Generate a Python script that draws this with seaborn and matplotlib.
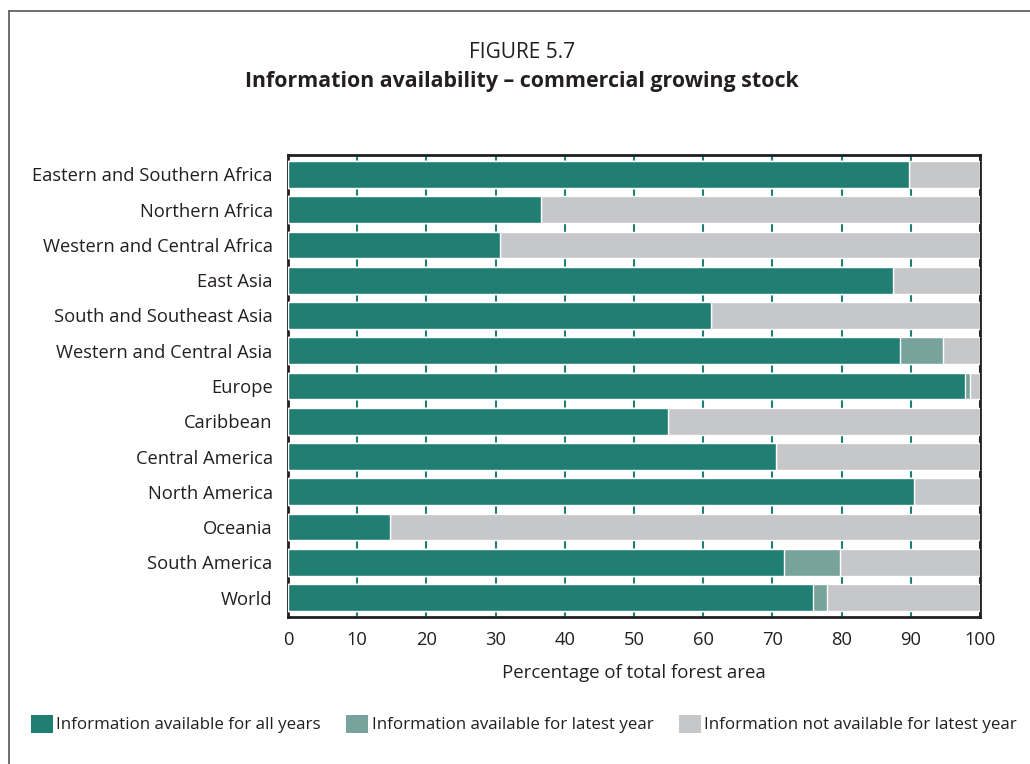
import numpy as np
import matplotlib
matplotlib.use("Agg")
import matplotlib.pyplot as plt
import seaborn as sns
import pandas as pd
from matplotlib.patches import Patch
from matplotlib.lines import Line2D

regions = ["Eastern and Southern Africa", "Northern Africa", "Western and Central Africa",
           "East Asia", "South and Southeast Asia", "Western and Central Asia", "Europe",
           "Caribbean", "Central America", "North America", "Oceania", "South America", "World"]
all_years = [89.7, 36.5, 30.7, 87.4, 61.1, 88.4, 97.9, 54.9, 70.5, 90.5, 14.7, 71.7, 75.9]
latest_year = [0, 0, 0, 0, 0, 6.2, 0.6, 0, 0, 0, 0, 8.1, 2.0]
series_names = ["Information available for all years",
                "Information available for latest year",
                "Information not available for latest year"]
colors = ["#217e72", "#78a39c", "#c6c7c9"]
teal_grid = "#217e72"

df = pd.DataFrame({"region": regions, "all": all_years, "latest": latest_year})
df["cum_latest"] = df["all"] + df["latest"]
df["total"] = 100.0

sns.set_theme(style="white")
plt.rcParams["font.family"] = ["Open Sans", "DejaVu Sans"]
plt.rcParams["text.color"] = "#231f20"

fig = plt.figure(figsize=(10.30, 7.64), dpi=100)
ax = fig.add_axes([288 / 1030, 1 - 617 / 764, 692 / 1030, 462 / 764])

bar_h = 0.76
sns.barplot(data=df, y="region", x="total", color=colors[2], orient="h", width=bar_h,
            saturation=1, ax=ax, zorder=3)
sns.barplot(data=df, y="region", x="cum_latest", color=colors[1], orient="h", width=bar_h,
            saturation=1, ax=ax, zorder=3)
sns.barplot(data=df, y="region", x="all", color=colors[0], orient="h", width=bar_h,
            saturation=1, ax=ax, zorder=3)

ax.set_xlim(0, 100)
ax.set_ylim(len(regions) - 0.5 + 0.05, -0.5 - 0.05)
ax.set_xticks(np.arange(0, 101, 10))
ax.xaxis.grid(True, color=teal_grid, linewidth=1.5, zorder=0)
ax.set_axisbelow(True)
ax.tick_params(axis="both", length=0, labelsize=13.2, colors="#231f20")
ax.tick_params(axis="x", pad=10)
ax.tick_params(axis="y", pad=11)
ax.set_ylabel("")
ax.set_xlabel("Percentage of total forest area", fontsize=13.4, labelpad=11, color="#231f20")
for side in ["left", "right", "top", "bottom"]:
    ax.spines[side].set_visible(True)
    ax.spines[side].set_color("#231f20")
    ax.spines[side].set_linewidth(2.0)

fig.text(0.507, 1 - 52 / 764, "FIGURE 5.7", ha="center", va="center", fontsize=15)
fig.text(0.507, 1 - 82 / 764, "Information availability \u2013 commercial growing stock",
         ha="center", va="center", fontsize=15.4, fontweight="bold")

handles = [Patch(facecolor=c, edgecolor="none") for c in colors]
fig.legend(handles, series_names, loc="center left", bbox_to_anchor=(24 / 1030, 1 - 724 / 764),
           ncol=3, frameon=False, fontsize=12.2, handlelength=1.3, handleheight=1.3,
           handletextpad=0.2, columnspacing=1.5, borderaxespad=0)

# outer frame (left and top edges visible)
fig.add_artist(Line2D([9 / 1030, 9 / 1030], [0, 1 - 11 / 764], transform=fig.transFigure,
                      color="#555555", linewidth=1.2))
fig.add_artist(Line2D([9 / 1030, 1], [1 - 11 / 764, 1 - 11 / 764], transform=fig.transFigure,
                      color="#555555", linewidth=1.2))

fig.savefig("out.png", dpi=100, facecolor="white")
